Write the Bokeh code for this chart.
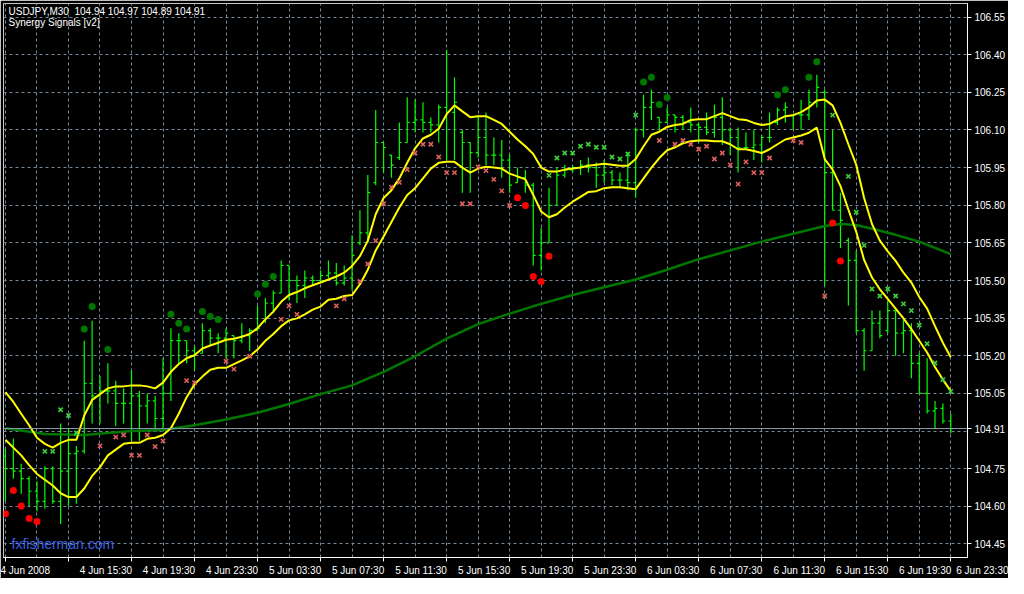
from bokeh.plotting import figure
from bokeh.models import Range1d, FixedTicker, Label, Span, PrintfTickFormatter
from bokeh.embed import file_html
from bokeh.resources import INLINE

# ---------------- data (USDJPY M30, 4 Jun 2008 11:30 .. 6 Jun 2008 23:30) ----------------
bar_index = list(range(121))

high = [104.83, 104.87, 104.77, 104.72, 104.70, 104.76, 104.76, 104.93, 104.91, 104.84,
        105.26, 105.34, 105.12, 105.17, 105.10, 105.07, 105.14, 105.06, 105.05, 105.04,
        105.19, 105.31, 105.29, 105.26, 105.24, 105.33, 105.31, 105.29, 105.31, 105.28,
        105.33, 105.31, 105.40, 105.43, 105.46, 105.58, 105.56, 105.52, 105.54, 105.52,
        105.54, 105.58, 105.57, 105.56, 105.68, 105.78, 105.92, 106.18, 106.05, 106.00,
        106.13, 106.23, 106.22, 106.21, 106.15, 106.20, 106.42, 106.31, 106.10, 106.05,
        106.16, 106.17, 106.07, 106.06, 106.00, 105.95, 105.94, 105.89, 105.71, 105.87,
        105.95, 105.96, 105.96, 105.98, 105.99, 105.97, 105.98, 105.94, 105.93, 106.01,
        106.11, 106.24, 106.26, 106.15, 106.19, 106.16, 106.16, 106.19, 106.13, 106.17,
        106.20, 106.23, 106.11, 106.11, 106.09, 106.10, 106.08, 106.17, 106.19, 106.21,
        106.16, 106.22, 106.26, 106.32, 106.26, 106.10, 105.85, 105.67, 105.62, 105.31,
        105.38, 105.38, 105.42, 105.38, 105.35, 105.33, 105.21, 105.19, 105.02, 105.01,
        104.97]

low = [104.62, 104.71, 104.65, 104.60, 104.58, 104.59, 104.61, 104.53, 104.60, 104.61,
       104.81, 104.93, 104.93, 105.01, 104.92, 104.93, 104.86, 104.86, 104.93, 104.91,
       104.91, 105.02, 105.17, 105.17, 105.14, 105.21, 105.24, 105.21, 105.19, 105.19,
       105.25, 105.22, 105.30, 105.33, 105.37, 105.45, 105.42, 105.41, 105.43, 105.48,
       105.49, 105.51, 105.48, 105.48, 105.46, 105.64, 105.65, 105.88, 105.93, 105.91,
       105.98, 106.05, 106.09, 106.09, 106.09, 106.05, 105.98, 105.98, 105.85, 105.85,
       105.99, 105.96, 105.96, 105.91, 105.85, 105.89, 105.85, 105.56, 105.54, 105.65,
       105.80, 105.91, 105.93, 105.92, 105.93, 105.87, 105.89, 105.88, 105.87, 105.86,
       105.83, 106.07, 106.14, 106.10, 106.13, 106.09, 106.10, 106.09, 106.05, 106.08,
       106.07, 106.04, 106.00, 105.93, 106.02, 105.98, 105.97, 106.05, 106.12, 106.13,
       106.10, 106.10, 106.14, 106.19, 105.48, 105.78, 105.63, 105.40, 105.29, 105.14,
       105.22, 105.27, 105.29, 105.20, 105.21, 105.11, 105.05, 104.97, 104.91, 104.93,
       104.89]

open_ = [104.80, 104.75, 104.74, 104.71, 104.66, 104.62, 104.75, 104.62, 104.74, 104.81,
         104.82, 105.09, 105.04, 105.06, 105.06, 105.01, 105.01, 105.04, 105.00, 105.02,
         104.95, 105.05, 105.26, 105.26, 105.22, 105.21, 105.30, 105.27, 105.27, 105.28,
         105.26, 105.28, 105.30, 105.34, 105.41, 105.45, 105.56, 105.50, 105.48, 105.51,
         105.50, 105.52, 105.53, 105.49, 105.51, 105.65, 105.69, 105.89, 106.05, 106.00,
         105.99, 106.05, 106.13, 106.14, 106.13, 106.12, 106.19, 106.17, 106.09, 106.05,
         106.01, 106.07, 106.00, 106.00, 105.98, 105.89, 105.91, 105.88, 105.60, 105.65,
         105.80, 105.92, 105.94, 105.95, 105.96, 105.95, 105.92, 105.93, 105.90, 105.90,
         105.89, 106.10, 106.19, 106.15, 106.13, 106.16, 106.15, 106.13, 106.12, 106.11,
         106.09, 106.15, 106.10, 106.07, 106.03, 106.03, 106.04, 106.07, 106.13, 106.18,
         106.16, 106.16, 106.16, 106.21, 106.25, 105.93, 105.78, 105.66, 105.58, 105.30,
         105.22, 105.33, 105.30, 105.38, 105.29, 105.30, 105.17, 105.05, 104.98, 104.99,
         104.94]

close = [104.75, 104.74, 104.71, 104.66, 104.62, 104.75, 104.62, 104.74, 104.81, 104.82,
         105.09, 105.04, 105.06, 105.06, 105.01, 105.01, 105.04, 105.00, 105.02, 104.95,
         105.05, 105.26, 105.26, 105.22, 105.21, 105.30, 105.27, 105.27, 105.29, 105.26,
         105.28, 105.30, 105.31, 105.41, 105.45, 105.56, 105.50, 105.48, 105.51, 105.50,
         105.52, 105.53, 105.49, 105.51, 105.60, 105.69, 105.85, 106.05, 106.03, 105.96,
         106.05, 106.13, 106.14, 106.13, 106.12, 106.19, 106.17, 106.21, 106.05, 106.01,
         106.07, 106.00, 106.00, 105.98, 105.88, 105.91, 105.88, 105.60, 105.65, 105.80,
         105.92, 105.94, 105.95, 105.96, 105.95, 105.92, 105.93, 105.90, 105.90, 105.89,
         106.10, 106.19, 106.21, 106.13, 106.16, 106.15, 106.13, 106.12, 106.11, 106.09,
         106.15, 106.10, 106.07, 106.03, 106.03, 106.04, 106.07, 106.07, 106.18, 106.19,
         106.16, 106.16, 106.21, 106.27, 105.93, 105.78, 105.74, 105.58, 105.30, 105.22,
         105.33, 105.28, 105.38, 105.29, 105.30, 105.17, 105.05, 104.98, 104.99, 104.94,
         104.91]

# Synergy price-action channel (yellow)
upper_band = [105.055, 105.016, 104.969, 104.923, 104.873, 104.849, 104.834, 104.853, 104.865, 104.865,
              104.962, 105.024, 105.047, 105.070, 105.078, 105.078, 105.082, 105.082, 105.078, 105.070,
              105.093, 105.136, 105.167, 105.190, 105.202, 105.229, 105.241, 105.252, 105.264, 105.268,
              105.276, 105.287, 105.310, 105.345, 105.376, 105.415, 105.442, 105.454, 105.469, 105.481,
              105.492, 105.504, 105.516, 105.531, 105.558, 105.597, 105.659, 105.764, 105.829, 105.860,
              105.907, 105.969, 106.027, 106.066, 106.081, 106.105, 106.163, 106.198, 106.174, 106.151,
              106.155, 106.155, 106.140, 106.124, 106.093, 106.062, 106.035, 106.004, 105.950, 105.934,
              105.934, 105.942, 105.946, 105.950, 105.957, 105.961, 105.965, 105.961, 105.957, 105.957,
              105.984, 106.035, 106.081, 106.093, 106.112, 106.120, 106.124, 106.140, 106.143, 106.143,
              106.155, 106.167, 106.155, 106.143, 106.140, 106.128, 106.120, 106.124, 106.140, 106.155,
              106.159, 106.171, 106.190, 106.217, 106.221, 106.198, 106.128, 106.043, 105.961, 105.829,
              105.725, 105.659, 105.616, 105.578, 105.531, 105.492, 105.434, 105.388, 105.318, 105.252,
              105.194]

lower_band = [104.865, 104.834, 104.803, 104.764, 104.729, 104.706, 104.683, 104.652, 104.637, 104.637,
              104.671, 104.721, 104.756, 104.803, 104.826, 104.849, 104.853, 104.853, 104.869, 104.873,
              104.884, 104.911, 104.969, 105.035, 105.086, 105.117, 105.144, 105.152, 105.152, 105.167,
              105.182, 105.198, 105.225, 105.260, 105.287, 105.318, 105.341, 105.349, 105.365, 105.384,
              105.396, 105.423, 105.427, 105.438, 105.442, 105.485, 105.543, 105.620, 105.675, 105.733,
              105.791, 105.841, 105.868, 105.907, 105.946, 105.969, 105.973, 105.973, 105.950, 105.930,
              105.946, 105.953, 105.950, 105.946, 105.926, 105.915, 105.903, 105.841, 105.775, 105.752,
              105.764, 105.791, 105.814, 105.833, 105.853, 105.856, 105.868, 105.872, 105.872, 105.868,
              105.864, 105.907, 105.950, 105.988, 106.019, 106.031, 106.047, 106.055, 106.058, 106.058,
              106.055, 106.055, 106.043, 106.023, 106.023, 106.016, 106.008, 106.023, 106.043, 106.062,
              106.070, 106.078, 106.089, 106.109, 105.984, 105.942, 105.876, 105.783, 105.694, 105.582,
              105.512, 105.465, 105.427, 105.388, 105.349, 105.306, 105.260, 105.213, 105.155, 105.105,
              105.059]

# slow moving average (dark green), read at these bars
ma_bars = [0, 5, 10, 16, 20, 24, 28, 32, 36, 40, 44, 48, 52, 56, 60, 64,
           68, 72, 76, 80, 84, 88, 92, 96, 100, 104, 106, 108, 110, 113, 116, 120]
ma_vals = [104.911, 104.888, 104.884, 104.900, 104.904, 104.923, 104.946, 104.973,
           105.008, 105.047, 105.082, 105.136, 105.198, 105.268, 105.326, 105.368,
           105.407, 105.442, 105.473, 105.504, 105.543, 105.585, 105.620, 105.655,
           105.686, 105.717, 105.725, 105.721, 105.706, 105.682, 105.655, 105.605]

# signal markers
buy_x_bars = [5, 6, 7, 8, 9, 69, 70, 71, 72, 73, 74, 75, 76, 77, 78, 79, 80, 105,
              107, 108, 109, 110, 111, 112, 113, 114, 115, 116, 117, 118, 119, 120]
buy_x_vals = [104.819, 104.819, 104.985, 104.962, 104.892, 105.919, 105.988, 106.008,
              106.008, 106.035, 106.043, 106.031, 106.031, 105.992, 105.984, 106.004,
              106.159, 106.159, 105.915, 105.772, 105.640, 105.466, 105.438, 105.466,
              105.438, 105.407, 105.380, 105.322, 105.248, 105.171, 105.105, 105.058]

sell_x_bars = [12, 14, 15, 16, 17, 18, 19, 20, 23, 24, 28, 29, 31, 35, 36, 37, 42, 43,
               45, 46, 47, 48, 49, 50, 51, 52, 53, 54, 55, 56, 57, 58, 59, 60, 61, 62,
               63, 64, 83, 85, 86, 87, 88, 89, 90, 91, 92, 93, 94, 95, 96, 97, 100, 101, 104]
sell_x_vals = [104.841, 104.876, 104.884, 104.803, 104.803, 104.884, 104.838, 104.861,
               105.101, 105.093, 105.178, 105.147, 105.198, 105.345, 105.399, 105.365,
               105.399, 105.427, 105.496, 105.566, 105.659, 105.806, 105.872, 105.891,
               105.942, 106.008, 106.043, 106.043, 105.992, 105.930, 105.930, 105.806,
               105.806, 105.953, 105.938, 105.903, 105.857, 105.799, 106.058, 106.043,
               106.058, 106.043, 106.023, 106.035, 105.984, 106.008, 105.961, 105.884,
               105.973, 105.930, 105.930, 105.988, 106.058, 106.050, 105.438]

up_dot_bars = [10, 11, 13, 21, 22, 23, 25, 26, 27, 32, 33, 34, 81, 82, 83, 84, 98, 99, 102, 103]
up_dot_vals = [105.307, 105.396, 105.225, 105.365, 105.330, 105.307, 105.376, 105.357,
               105.345, 105.446, 105.485, 105.516, 106.291, 106.310, 106.201, 106.229,
               106.240, 106.260, 106.310, 106.372]

down_dot_bars = [0, 1, 2, 3, 4, 65, 66, 67, 68, 69, 105, 106]
down_dot_vals = [104.570, 104.663, 104.601, 104.551, 104.539, 105.830, 105.799,
                 105.516, 105.496, 105.597, 105.729, 105.578]

grid_prices = [104.45, 104.60, 104.75, 104.90, 105.05, 105.20, 105.35, 105.50,
               105.65, 105.80, 105.95, 106.10, 106.25, 106.40, 106.55]
last_price = 104.91
# the 104.90 scale label is covered by the current-price label in the reference
axis_prices = [v for v in grid_prices if v != 104.90] + [last_price]
time_tick_bars = [0, 8, 16, 24, 32, 40, 48, 56, 64, 72, 80, 88, 96, 104, 112, 120]
time_tick_labels = ["4 Jun 2008", "4 Jun 15:30", "4 Jun 19:30", "4 Jun 23:30",
                    "5 Jun 03:30", "5 Jun 07:30", "5 Jun 11:30", "5 Jun 15:30",
                    "5 Jun 19:30", "5 Jun 23:30", "6 Jun 03:30", "6 Jun 07:30",
                    "6 Jun 11:30", "6 Jun 15:30", "6 Jun 19:30", "6 Jun 23:30"]
title_text = "USDJPY,M30\u00a0 104.94 104.97 104.89 104.91"
indicator_text = "Synergy Signals [v2]"

# ---------------- figure ----------------
X0, X1 = -0.25, 122.125
Y0, Y1 = 104.396, 106.604
FONT = "Liberation Sans"
FS = 10.0
NBSP_PX = 2.05   # rendered width of one no-break space at this size

# MetaTrader draws time labels starting at the tick; Bokeh centres them, so each
# label gets leading no-break spaces of (nearly) its own width.  The first one is
# kept to the left edge by Bokeh itself.
_em = {c: 0.556 for c in "0123456789un"}
_em.update({" ": 0.278, ":": 0.278, "J": 0.5})


def left_aligned(s):
    w = sum(_em.get(c, 0.55) for c in s) * FS + 3.0
    return "\u00a0" * int(round(w / NBSP_PX)) + s


x_overrides = {b: left_aligned(s) for b, s in zip(time_tick_bars, time_tick_labels)}
x_overrides[time_tick_bars[0]] = time_tick_labels[0]

p = figure(width=1008, height=578, x_range=Range1d(X0, X1), y_range=Range1d(Y0, Y1),
           output_backend="svg", toolbar_location=None, y_axis_location="right",
           background_fill_color="black", border_fill_color="black",
           min_border_left=3, min_border_top=3, min_border_right=41, min_border_bottom=20)
p.outline_line_color = "#C8C8C8"
p.outline_line_width = 1

# grid
p.xgrid.ticker = FixedTicker(ticks=list(range(0, 121, 4)))
p.ygrid.ticker = FixedTicker(ticks=grid_prices)
for g in (p.xgrid, p.ygrid):
    g.grid_line_color = "#778899"
    g.grid_line_dash = "3 3"
    g.grid_line_width = 1

# axes
ya = p.yaxis[0]
ya.ticker = FixedTicker(ticks=axis_prices)
ya.formatter = PrintfTickFormatter(format="%.2f")
xa = p.xaxis[0]
xa.ticker = FixedTicker(ticks=time_tick_bars)
xa.major_label_overrides = x_overrides
for a in (xa, ya):
    a.axis_line_color = "white"
    a.major_tick_line_color = "white"
    a.major_tick_out = 4
    a.major_tick_in = 0
    a.minor_tick_line_color = None
    a.major_label_text_color = "white"
    a.major_label_text_font = FONT
    a.major_label_text_font_size = "10px"
    a.major_label_standoff = 3

# bid line
p.add_layout(Span(location=last_price, dimension="width", line_color="#8C9BAA", line_width=1))

# OHLC bars
bar_col = "#00FF00"
p.segment(x0=bar_index, y0=low, x1=bar_index, y1=high, line_color=bar_col, line_width=1.2)
p.segment(x0=[i - 0.3 for i in bar_index], y0=open_, x1=bar_index, y1=open_,
          line_color=bar_col, line_width=1.2)
p.segment(x0=bar_index, y0=close, x1=[i + 0.3 for i in bar_index], y1=close,
          line_color=bar_col, line_width=1.2)

# indicator lines
p.line(ma_bars, ma_vals, line_color="#007800", line_width=2.5)
p.line(bar_index, upper_band, line_color="#FFFF00", line_width=2)
p.line(bar_index, lower_band, line_color="#FFFF00", line_width=2)

# signals
p.scatter(buy_x_bars, buy_x_vals, marker="x", size=6, line_color="#3CD23C", line_width=1.6)
p.scatter(sell_x_bars, sell_x_vals, marker="x", size=6, line_color="#E06060", line_width=1.6)
p.scatter(up_dot_bars, up_dot_vals, marker="circle", size=7, fill_color="#007800", line_color=None)
p.scatter(down_dot_bars, down_dot_vals, marker="circle", size=7, fill_color="#FF0000", line_color=None)

# texts
p.add_layout(Label(x=X0, y=Y1, x_offset=5, y_offset=-2, text=title_text, text_baseline="top",
                   text_color="white", text_font=FONT, text_font_size="10px"))
p.add_layout(Label(x=X0, y=Y1, x_offset=5, y_offset=-13, text=indicator_text, text_baseline="top",
                   text_color="white", text_font=FONT, text_font_size="10px"))
p.add_layout(Label(x=X0, y=Y0, x_offset=8, y_offset=6, text="fxfisherman.com",
                   text_baseline="bottom", text_color="#3F63E6", text_font=FONT,
                   text_font_size="14px"))

open("out.html", "w").write(file_html(p, INLINE))
